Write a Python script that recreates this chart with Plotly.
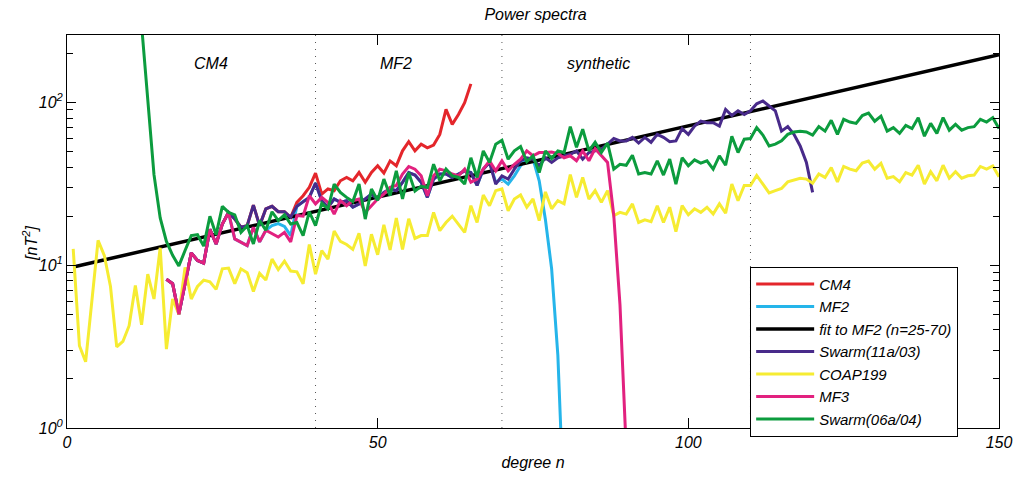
import plotly.graph_objects as go

# ---------------- data ----------------
title_text = "Power spectra"
x_title = "degree n"
y_title = "[nT<sup>2</sup>]"

deg_cm4 = list(range(16, 66))
cm4 = [8.2, 7.7, 5.0, 7.9, 11.9, 10.7, 10.3, 16.6, 13.5, 17.9,
       21.1, 19.2, 17.1, 17.5, 23.4, 17.5, 22.2, 23.0, 21.3, 21.3,
       19.7, 24.3, 26.7, 30.1, 36.8, 27.3, 29.4, 28.7, 33.0, 34.6,
       33.0, 37.1, 32.3, 37.1, 40.8, 36.8, 43.7, 40.8, 50.4, 57.3,
       50.4, 55.4, 52.6, 54.7, 63.6, 90.6, 73.3, 84.3, 99.6, 130.0]

deg_mf2 = list(range(16, 81))
mf2 = [8.2, 7.7, 5.0, 7.9, 11.9, 10.7, 10.3, 16.6, 13.5, 17.9,
       21.0, 14.5, 13.9, 13.2, 17.1, 13.9, 16.4, 17.5, 18.0, 17.3,
       15.2, 23.0, 24.6, 26.1, 31.9, 24.9, 22.7, 25.5, 24.3, 24.9,
       22.7, 23.8, 25.5, 27.3, 25.5, 28.0, 29.4, 28.7, 32.3, 37.1,
       35.8, 32.3, 26.1, 33.8, 36.3, 36.3, 34.6, 36.3, 38.0, 37.1,
       30.9, 38.9, 42.8, 32.3, 33.8, 31.5, 35.4, 40.8, 45.2, 45.0,
       33.0, 19.0, 9.5, 2.8, 0.3]

fit_deg = [1, 150]
fit_mf2 = [9.75, 196.6]

deg_sw11 = list(range(16, 121))
swarm_11a = [8.2, 7.7, 5.0, 7.9, 11.9, 10.7, 10.3, 16.6, 13.5, 17.9,
             21.1, 19.2, 17.1, 17.5, 23.4, 17.5, 22.2, 23.0, 21.3, 21.3,
             19.7, 23.0, 24.6, 26.1, 31.9, 24.9, 22.7, 25.5, 24.3, 24.9,
             22.7, 23.8, 25.5, 27.3, 25.5, 28.0, 29.4, 28.7, 32.3, 37.1,
             35.8, 32.3, 26.1, 33.8, 36.3, 36.3, 34.6, 36.3, 38.0, 37.1,
             30.9, 38.9, 42.8, 31.5, 35.4, 33.8, 38.9, 43.7, 45.7, 44.8,
             40.8, 45.7, 42.8, 45.7, 47.0, 48.0, 50.4, 44.8, 49.2, 50.4,
             51.6, 55.4, 60.0, 58.0, 58.0, 61.0, 56.3, 61.0, 56.9, 63.6,
             61.0, 57.3, 58.0, 69.0, 63.6, 71.6, 76.6, 75.0, 75.0, 71.6,
             90.6, 83.1, 88.8, 84.3, 88.8, 98.0, 102.0, 95.0, 88.8, 66.6,
             71.0, 63.6, 54.0, 42.8, 28.0]

deg_coap = list(range(1, 151))
coap199 = [12.6, 3.2, 2.55, 6.0, 14.2, 11.5, 7.4, 3.15, 3.4, 4.25,
           7.5, 4.3, 8.8, 6.2, 12.8, 3.05, 6.2, 5.0, 9.7, 6.2,
           7.4, 8.1, 7.9, 7.1, 9.5, 9.6, 7.7, 9.5, 9.0, 6.9,
           8.9, 8.1, 10.9, 9.4, 10.6, 9.2, 9.1, 7.7, 13.4, 8.8,
           12.3, 10.9, 16.2, 14.0, 13.4, 12.5, 15.7, 9.9, 15.5, 11.6,
           17.7, 12.4, 19.5, 12.5, 19.3, 14.6, 15.2, 15.2, 21.1, 16.3,
           18.3, 20.0, 17.9, 15.9, 23.2, 18.3, 27.0, 23.2, 28.7, 29.4,
           21.6, 25.5, 27.0, 22.7, 25.5, 18.8, 28.2, 22.2, 24.9, 23.8,
           36.0, 26.1, 34.6, 25.5, 28.7, 24.3, 28.7, 20.2, 21.1, 20.6,
           23.8, 18.3, 19.0, 18.5, 23.2, 18.3, 22.7, 16.1, 23.2, 20.4,
           22.2, 21.1, 22.7, 20.6, 23.8, 20.9, 31.5, 24.9, 30.9, 30.9,
           35.6, 31.5, 27.8, 28.7, 29.6, 32.5, 33.4, 34.2, 33.8, 31.9,
           36.3, 34.6, 39.8, 32.5, 40.4, 38.9, 38.0, 42.4, 43.6, 38.9,
           42.2, 34.2, 35.0, 32.5, 37.1, 35.8, 41.1, 31.5, 37.5, 33.0,
           41.1, 34.2, 37.5, 34.2, 35.4, 35.8, 40.4, 38.9, 40.7, 35.0]

deg_mf3 = list(range(16, 91))
mf3 = [8.2, 7.7, 5.0, 7.9, 11.9, 10.7, 10.3, 16.6, 13.5, 17.9,
       21.0, 14.5, 13.9, 13.2, 17.1, 13.9, 16.4, 15.6, 14.9, 15.9,
       13.9, 20.2, 20.0, 26.7, 23.8, 26.1, 24.3, 20.6, 24.9, 23.2,
       24.9, 25.5, 21.1, 23.2, 25.5, 27.3, 30.1, 30.9, 36.3, 40.4,
       38.9, 35.4, 26.7, 35.4, 38.9, 38.0, 36.3, 35.4, 38.9, 32.3,
       33.8, 38.9, 43.7, 38.0, 43.7, 38.0, 41.7, 44.8, 50.4, 47.0,
       49.2, 49.2, 49.6, 48.5, 45.7, 47.0, 43.8, 50.4, 43.8, 52.0,
       47.0, 42.8, 20.2, 5.7, 0.74]

deg_sw06 = list(range(12, 151))
swarm_06a = [300.0, 100.0, 36.0, 19.5, 14.0, 11.5, 9.9, 12.3, 15.2, 15.4,
             13.1, 20.0, 15.4, 23.0, 21.1, 20.4, 15.9, 17.5, 13.5, 18.8,
             16.4, 21.3, 18.8, 20.4, 17.9, 18.3, 15.2, 21.3, 17.5, 24.0,
             22.2, 31.5, 28.0, 26.1, 24.6, 31.5, 19.2, 29.4, 25.0, 33.8,
             26.7, 38.0, 25.5, 37.0, 28.5, 30.5, 30.0, 41.7, 33.0, 38.9,
             35.4, 34.6, 31.5, 45.7, 34.6, 50.4, 42.8, 55.4, 58.6, 44.8,
             50.4, 53.5, 43.2, 47.0, 37.1, 50.4, 45.2, 50.4, 49.2, 71.0,
             53.0, 68.4, 50.4, 56.9, 49.2, 56.3, 38.9, 41.7, 41.1, 47.4,
             36.3, 37.1, 36.3, 43.8, 35.8, 44.8, 31.5, 45.7, 40.8, 44.4,
             42.4, 43.8, 38.9, 47.0, 41.1, 62.0, 49.2, 59.4, 60.0, 70.0,
             63.0, 54.0, 55.4, 58.0, 63.6, 65.8, 66.6, 65.8, 63.0, 71.0,
             66.6, 77.6, 63.6, 78.7, 75.7, 74.3, 83.1, 86.0, 76.6, 82.3,
             66.6, 70.0, 64.5, 72.2, 69.0, 80.6, 62.0, 74.3, 64.5, 80.6,
             67.5, 73.3, 67.5, 70.0, 71.0, 78.7, 75.7, 80.6, 69.0]

series_names = ["CM4", "MF2", "fit to MF2 (n=25-70)", "Swarm(11a/03)",
                "COAP199", "MF3", "Swarm(06a/04)"]
series_x = [deg_cm4, deg_mf2, fit_deg, deg_sw11, deg_coap, deg_mf3, deg_sw06]
series_y = [cm4, mf2, fit_mf2, swarm_11a, coap199, mf3, swarm_06a]
series_colors = ["#e4262b", "#25b5ea", "#000000", "#482a8a",
                 "#f6ec32", "#e2217f", "#0c9c3e"]
series_widths = [3, 3, 3.5, 3, 3, 3, 3]

divider_deg = [40, 70, 110]
region_labels = ["CM4", "MF2", "synthetic"]
region_label_deg = [23.1, 52.9, 85.5]

x_tick_vals = [0, 50, 100, 150]
y_tick_vals = [1, 10, 100]
y_tick_text = ["10<sup>0</sup>", "10<sup>1</sup>", "10<sup>2</sup>"]
y_minor_vals = [2, 3, 4, 5, 6, 7, 8, 9, 20, 30, 40, 50, 60, 70, 80, 90, 200]

# ---------------- figure ----------------
FONT = "Liberation Sans, Arial, Helvetica, sans-serif"
fig = go.Figure()
for name, xs, ys, col, w in zip(series_names, series_x, series_y,
                                 series_colors, series_widths):
    fig.add_trace(go.Scatter(x=xs, y=ys, mode="lines", name=name,
                             line=dict(color=col, width=w)))

for d in divider_deg:
    fig.add_shape(type="line", xref="x", yref="paper", x0=d, x1=d, y0=0, y1=1,
                  line=dict(color="#555555", width=1, dash="1px,6px"),
                  layer="below")

for lab, d in zip(region_labels, region_label_deg):
    fig.add_annotation(x=d, y=0.954, xref="x", yref="paper", text=lab,
                       showarrow=False,
                       font=dict(family=FONT, size=16, color="black", style="italic"))

# y-axis title as a rotated annotation (for exact placement)
fig.add_annotation(x=-0.039, y=0.47, xref="paper", yref="paper", text=y_title,
                   showarrow=False, textangle=-90, xanchor="center",
                   yanchor="middle",
                   font=dict(family=FONT, size=16, color="black", style="italic"))

fig.update_layout(
    width=1024, height=480,
    margin=dict(l=67, r=19, t=35, b=50),
    paper_bgcolor="white", plot_bgcolor="white",
    font=dict(family=FONT, size=16, color="black", style="italic"),
    title=dict(text=title_text, x=0.523, xanchor="center", y=0.969,
               yanchor="middle",
               font=dict(family=FONT, size=16, style="italic")),
    showlegend=True,
    legend=dict(x=0.733, y=0.41, xanchor="left", yanchor="top",
                bgcolor="white", bordercolor="black", borderwidth=1,
                font=dict(family=FONT, size=15, style="italic"),
                itemwidth=58, tracegroupgap=0),
)

fig.update_xaxes(
    type="linear", range=[0, 150],
    tickmode="array", tickvals=x_tick_vals,
    ticks="inside", ticklen=10, tickcolor="black", tickwidth=1,
    showline=True, linecolor="black", linewidth=1, mirror="ticks",
    showgrid=False, zeroline=False,
    tickfont=dict(family=FONT, size=16, style="italic"),
    title=dict(text=x_title, standoff=6,
               font=dict(family=FONT, size=16, style="italic")),
)
fig.update_yaxes(
    type="log", range=[0, 2.414],
    tickmode="array", tickvals=y_tick_vals, ticktext=y_tick_text,
    ticks="inside", ticklen=9, tickcolor="black", tickwidth=1,
    minor=dict(tickmode="array", tickvals=y_minor_vals, ticks="inside",
               ticklen=6, tickcolor="black", showgrid=False),
    showline=True, linecolor="black", linewidth=1, mirror="ticks",
    showgrid=False, zeroline=False,
    tickfont=dict(family=FONT, size=16, style="italic"),
)

fig.write_html("out.html")
